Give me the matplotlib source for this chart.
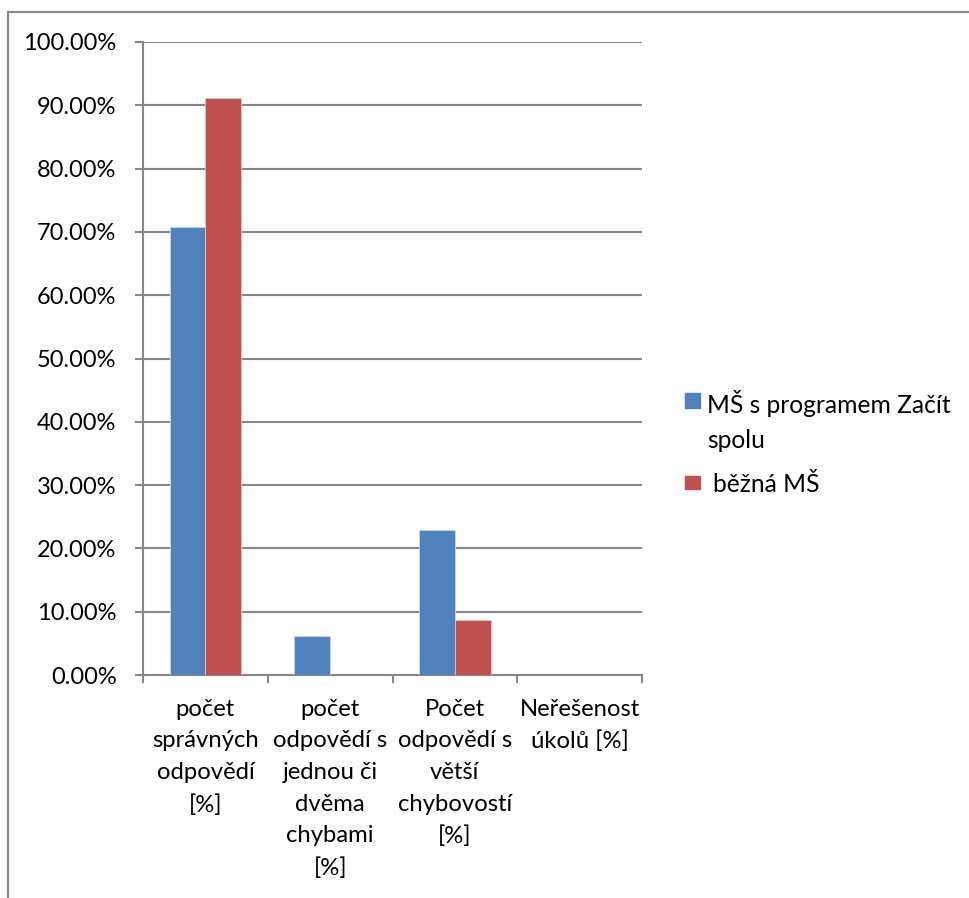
import numpy as np
import matplotlib
matplotlib.use("Agg")
import matplotlib.pyplot as plt
from matplotlib.lines import Line2D
from matplotlib.patches import Rectangle

plt.rcParams['font.family'] = ['Lato', 'DejaVu Sans']

categories = [
    "počet\nsprávných\nodpovědí\n[%]",
    "počet\nodpovědí s\njednou či\ndvěma\nchybami\n[%]",
    "Počet\nodpovědí s\nvětší\nchybovostí\n[%]",
    "Neřešenost\núkolů [%]",
]
series_names = ["MŠ s programem Začít\nspolu", "běžná MŠ"]
zacit_spolu = [0.707, 0.062, 0.229, 0.0]
bezna_ms = [0.911, 0.0, 0.087, 0.0]
y_ticks = [0.0, 0.1, 0.2, 0.3, 0.4, 0.5, 0.6, 0.7, 0.8, 0.9, 1.0]

colors = {
    "blue": "#4F81BD",
    "red": "#C0504D",
    "grid": "#878787",
}

W, H = 969, 898
fig = plt.figure(figsize=(W / 100, H / 100), dpi=100)
ax = fig.add_axes([143 / W, 1 - 675 / H, (642 - 143) / W, (675 - 42) / H])

x = np.arange(len(categories))
bar_w = 1 / 3.5
ax.bar(x - bar_w / 2, zacit_spolu, bar_w, color=colors["blue"], edgecolor="#c9d6e8",
       linewidth=0.6, label=series_names[0], zorder=3)
ax.bar(x + bar_w / 2, bezna_ms, bar_w, color=colors["red"], edgecolor="#e6c4c3",
       linewidth=0.6, label=series_names[1], zorder=3)

ax.set_xlim(-0.5, len(categories) - 0.5)
ax.set_ylim(0, 1.0)
ax.set_yticks(y_ticks)
ax.set_yticklabels([f"{v * 100:.2f}%" for v in y_ticks], fontsize=17)
ax.yaxis.grid(True, color=colors["grid"], linewidth=1.5, zorder=0)
ax.tick_params(axis="y", length=6, width=1.5, color=colors["grid"], pad=13)

ax.set_xticks(x)
ax.set_xticklabels(categories, fontsize=17.2, linespacing=1.63)
ax.tick_params(axis="x", which="major", length=0, pad=17)
ax.set_xticks(np.arange(len(categories) + 1) - 0.5, minor=True)
ax.tick_params(axis="x", which="minor", length=6, width=1.5, color=colors["grid"], direction="out")

for side in ["top", "right"]:
    ax.spines[side].set_visible(False)
for side in ["left", "bottom"]:
    ax.spines[side].set_color(colors["grid"])
    ax.spines[side].set_linewidth(1.5)

# legend, handle aligned with first line of text as in the original
legend_entries = [
    (series_names[0], colors["blue"], 393, 15, 15, 707),
    (series_names[1], colors["red"], 476, 15, 13, 713),
]
for label, col, top, sw, sh, tx in legend_entries:
    fig.add_artist(Rectangle((685 / W, 1 - (top + sh) / H), sw / W, sh / H,
                             transform=fig.transFigure, color=col))
    fig.text(tx / W, 1 - (top - 3) / H, label, fontsize=17.7, va="top", ha="left",
             linespacing=1.63)

# outer chart frame (cropped)
fig.add_artist(Line2D([8 / W, 1.0], [1 - 12 / H, 1 - 12 / H], color=colors["grid"], lw=1.5))
fig.add_artist(Line2D([8 / W, 8 / W], [0, 1 - 12 / H], color=colors["grid"], lw=1.5))

fig.savefig("out.png", dpi=100)
